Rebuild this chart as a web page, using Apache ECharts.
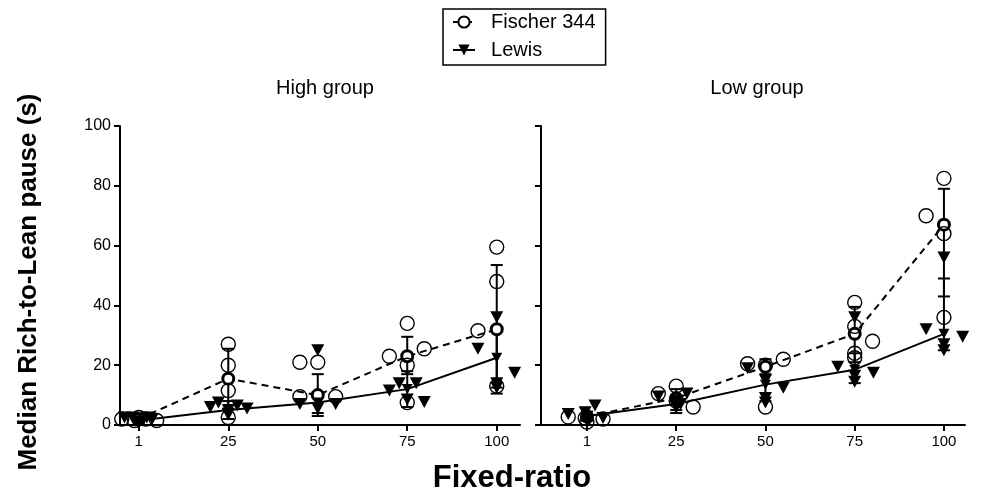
<!DOCTYPE html>
<html><head><meta charset="utf-8">
<script src="https://cdn.jsdelivr.net/npm/echarts@6/dist/echarts.min.js"></script>
<style>html,body{margin:0;padding:0;background:#fff}#c{width:982px;height:493px}</style>
</head><body><div id="c"></div>
<script>
// ---- data ----
const frLabels = ['1', '25', '50', '75', '100'];
const yTicks = [0, 20, 40, 60, 80, 100];
const panelTitles = ['High group', 'Low group'];
const strainNames = ['Fischer 344', 'Lewis'];

// group means
const highFischerMean = [2, 15.5, 10, 23, 32];
const highLewisMean   = [1.5, 5, 7.5, 12, 22.5];
const lowFischerMean  = [2.8, 9, 19.5, 30.5, 67];
const lowLewisMean    = [3, 7, 13.5, 18.5, 30.5];

// error bars (low / high ends)
const highFischerLo = [1, 5.5, 3, 17, 10.5];
const highFischerHi = [3, 25.5, 17, 29.5, 53.5];
const highLewisLo   = [0.5, 2, 4, 6, 12.5];
const highLewisHi   = [2.5, 8, 11, 18, 32];
const lowFischerLo  = [1.5, 5, 17, 21, 43];
const lowFischerHi  = [3.5, 12, 22, 39.5, 79];
const lowLewisLo    = [1.5, 4, 8, 14, 25];
const lowLewisHi    = [4.5, 10, 20, 24, 49];

// individual animals: values per FR, and horizontal jitter (category units)
const highFischerPts = [[2, 1.5, 2, 1.5, 2.5], [27, 20, 11.5, 2.5], [21, 21, 9.5, 9.5], [34, 23, 25.5, 20, 7.5], [59.5, 48, 31.5, 13]];
const highFischerJit = [[-0.19, -0.05, 0.08, 0.2, 0], [0, 0, 0, 0], [-0.2, 0, -0.2, 0.2], [0, -0.2, 0.19, 0, 0], [0, 0, -0.21, 0]];
const highLewisPts = [[2.5, 2.5, 0.5, 2.5, 2], [6, 7.5, 5, 6.5, 5.5, 3.5], [25, 7, 7, 5.5], [11.5, 14, 14, 7.7, 8.5], [36, 25.5, 17.5, 14, 12.5]];
const highLewisJit = [[-0.16, -0.07, 0, 0.09, 0.15], [-0.2, -0.11, 0, 0.1, 0.21, 0], [0, -0.2, 0.2, 0], [-0.2, -0.09, 0.1, 0.19, 0], [0, -0.21, 0.2, 0, 0]];
const lowFischerPts = [[2.7, 2.3, 1, 2], [10.5, 13, 6, 8], [20.5, 20, 22, 6], [41, 33, 24, 22.5, 28], [82.5, 70, 64, 36]];
const lowFischerJit = [[-0.21, -0.02, 0, 0.18], [-0.2, 0, 0.19, 0], [-0.2, 0, 0.2, 0], [0, 0, 0, 0, 0.2], [0, -0.2, 0, 0]];
const lowLewisPts = [[3.7, 4.3, 6.5, 1.5, 2.3], [9.5, 10.5, 8, 6, 7], [19, 15, 9, 7.5, 12.5], [19.5, 36, 17.5, 16.5, 14.5], [56, 32, 29.5, 27, 25]];
const lowLewisJit = [[-0.21, -0.02, 0.09, 0, 0.18], [-0.2, 0.12, 0, 0, 0.05], [-0.2, 0, 0, 0, 0.2], [-0.19, 0, 0.21, 0, 0], [0, -0.2, 0.21, 0, 0]];

// ---- build ----
const FONT = 'Liberation Sans, Arial, Helvetica, sans-serif';
const chart = echarts.init(document.getElementById('c'));
const idx = frLabels.map((_, i) => i);

function pts(vals, jit) {
  const out = [];
  vals.forEach((arr, i) => arr.forEach((v, k) => out.push([i + jit[i][k], v])));
  return out;
}
function errSeries(lo, hi, g) {
  return {
    type: 'custom', xAxisIndex: g, yAxisIndex: g, z: 2, silent: true,
    data: lo.map((l, i) => [i, l, hi[i]]),
    encode: { x: 0, y: [1, 2] },
    renderItem: function (params, api) {
      const x = api.value(0);
      const a = api.coord([x, api.value(1)]);
      const b = api.coord([x, api.value(2)]);
      const st = { stroke: '#000', lineWidth: 2 };
      return { type: 'group', children: [
        { type: 'line', shape: { x1: a[0], y1: a[1], x2: b[0], y2: b[1] }, style: st },
        { type: 'line', shape: { x1: a[0] - 6, y1: a[1], x2: a[0] + 6, y2: a[1] }, style: st },
        { type: 'line', shape: { x1: b[0] - 6, y1: b[1], x2: b[0] + 6, y2: b[1] }, style: st }
      ] };
    }
  };
}
function circleScatter(data, g) {
  return { type: 'scatter', xAxisIndex: g, yAxisIndex: g, z: 4, silent: true, data: data,
    symbol: 'circle', symbolSize: 14,
    itemStyle: { color: 'rgba(255,255,255,0)', borderColor: '#000', borderWidth: 1.4, opacity: 1 } };
}
function triScatter(data, g) {
  return { type: 'scatter', xAxisIndex: g, yAxisIndex: g, z: 4, silent: true, data: data,
    symbol: 'triangle', symbolRotate: 180, symbolSize: [13, 12],
    itemStyle: { color: '#000', opacity: 1 } };
}
function meanLine(name, mean, g, dashed) {
  return {
    name: name, type: 'line', xAxisIndex: g, yAxisIndex: g, z: 3, silent: true,
    data: mean.map((v, i) => [i, v]),
    lineStyle: { color: '#000', width: 2, type: dashed ? [7, 5] : 'solid' },
    symbol: dashed ? 'circle' : 'triangle', symbolRotate: dashed ? 0 : 180,
    symbolSize: dashed ? 11 : [11, 10],
    itemStyle: dashed ? { color: '#fff', borderColor: '#000', borderWidth: 3 } : { color: '#000', borderColor: '#000', borderWidth: 0 }
  };
}

const xCommon = (g, min, max) => ({
  gridIndex: g, type: 'value', min: min, max: max, position: 'bottom',
  axisLine: { onZero: false, lineStyle: { color: '#000', width: 2 } },
  axisTick: { customValues: idx, length: 6, lineStyle: { color: '#000', width: 2 } },
  axisLabel: { customValues: idx, formatter: v => frLabels[Math.round(v)], color: '#000', fontSize: 15, fontFamily: FONT, margin: 9 },
  splitLine: { show: false }
});
const yCommon = (g, showLabel) => ({
  gridIndex: g, type: 'value', position: 'left',
  min: yTicks[0], max: yTicks[yTicks.length - 1], interval: yTicks[1] - yTicks[0],
  axisLine: { show: true, onZero: false, lineStyle: { color: '#000', width: 2 } },
  axisTick: { show: true, length: 6, lineStyle: { color: '#000', width: 2 } },
  axisLabel: { show: showLabel, color: '#000', fontSize: 16, fontFamily: FONT, margin: 9 },
  splitLine: { show: false }
});

const option = {
  animation: false,
  backgroundColor: '#fff',
  grid: [
    { left: 120, top: 126, width: 400, height: 299 },
    { left: 541, top: 126, width: 424, height: 299 }
  ],
  xAxis: [xCommon(0, -0.21, 4.26), xCommon(1, -0.515, 4.236)],
  yAxis: [yCommon(0, true), yCommon(1, false)],
  title: [
    { text: panelTitles[0], left: 320, top: 73, textAlign: 'center', textStyle: { fontSize: 20, fontWeight: 'normal', color: '#000', fontFamily: FONT } },
    { text: panelTitles[1], left: 752, top: 73, textAlign: 'center', textStyle: { fontSize: 20, fontWeight: 'normal', color: '#000', fontFamily: FONT } }
  ],
  legend: {
    data: strainNames, orient: 'vertical', left: 443, top: 9,
    borderColor: '#000', borderWidth: 1.5, padding: [3, 10, 5, 9], itemGap: 8,
    itemWidth: 22, itemHeight: 14,
    formatter: n => '  ' + n,
    textStyle: { fontSize: 20, color: '#000', fontFamily: FONT }
  },
  graphic: [
    { type: 'text', x: 29, y: 282, rotation: Math.PI / 2,
      style: { text: 'Median Rich-to-Lean pause (s)', font: 'bold 26px ' + FONT, fill: '#000', textAlign: 'center', textVerticalAlign: 'middle' } },
    { type: 'text', x: 512, y: 478,
      style: { text: 'Fixed-ratio', font: 'bold 31px ' + FONT, fill: '#000', textAlign: 'center', textVerticalAlign: 'middle' } }
  ],
  series: [
    errSeries(highFischerLo, highFischerHi, 0),
    errSeries(highLewisLo, highLewisHi, 0),
    errSeries(lowFischerLo, lowFischerHi, 1),
    errSeries(lowLewisLo, lowLewisHi, 1),
    meanLine(strainNames[0], highFischerMean, 0, true),
    meanLine(strainNames[1], highLewisMean, 0, false),
    meanLine(strainNames[0], lowFischerMean, 1, true),
    meanLine(strainNames[1], lowLewisMean, 1, false),
    circleScatter(pts(highFischerPts, highFischerJit), 0),
    triScatter(pts(highLewisPts, highLewisJit), 0),
    circleScatter(pts(lowFischerPts, lowFischerJit), 1),
    triScatter(pts(lowLewisPts, lowLewisJit), 1)
  ]
};
chart.setOption(option);
</script></body></html>
